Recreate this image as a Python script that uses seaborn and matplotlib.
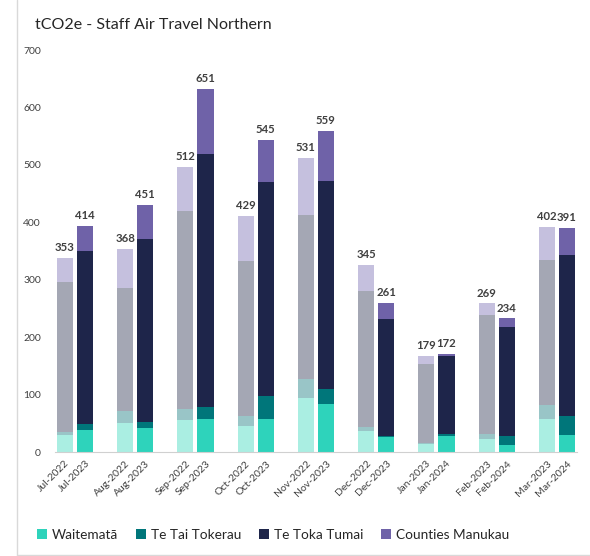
import matplotlib
matplotlib.use("Agg")
import matplotlib.pyplot as plt
from matplotlib.lines import Line2D
from matplotlib.patches import Patch
import numpy as np
import pandas as pd
import seaborn as sns

# months (each month shows prior year bar then current year bar)
months = ["Jul", "Aug", "Sep", "Oct", "Nov", "Dec", "Jan", "Feb", "Mar"]
prev_labels = ["Jul-2022", "Aug-2022", "Sep-2022", "Oct-2022", "Nov-2022",
               "Dec-2022", "Jan-2023", "Feb-2023", "Mar-2023"]
curr_labels = ["Jul-2023", "Aug-2023", "Sep-2023", "Oct-2023", "Nov-2023",
               "Dec-2023", "Jan-2024", "Feb-2024", "Mar-2024"]

regions = ["Waitematā", "Te Tai Tokerau", "Te Toka Tumai", "Counties Manukau"]

# tCO2e per region, prior year
prev_waitemata = [29, 50, 55, 45, 94, 36, 14, 23, 57]
prev_tai_tokerau = [6, 22, 20, 18, 33, 7, 1, 8, 25]
prev_toka_tumai = [261, 214, 345, 270, 285, 238, 139, 208, 253]
prev_counties = [42, 68, 77, 78, 100, 45, 14, 20, 57]

# tCO2e per region, current year
curr_waitemata = [38, 42, 57, 57, 84, 26, 28, 13, 29]
curr_tai_tokerau = [10, 11, 21, 40, 25, 2, 4, 15, 34]
curr_toka_tumai = [302, 318, 441, 373, 363, 203, 135, 189, 280]
curr_counties = [44, 60, 113, 74, 87, 29, 4, 16, 47]

# total labels as printed on the chart
prev_totals = [353, 368, 512, 429, 531, 345, 179, 269, 402]
curr_totals = [414, 451, 651, 545, 559, 261, 172, 234, 391]

dark = ["#2ed3bb", "#00767a", "#1e254a", "#6f62a8"]
light = ["#aaeee2", "#99c5c7", "#a4a7b4", "#c5c0de"]

rows = []
for i, m in enumerate(months):
    for period, label, vals in [
        ("prev", prev_labels[i], [prev_waitemata[i], prev_tai_tokerau[i], prev_toka_tumai[i], prev_counties[i]]),
        ("curr", curr_labels[i], [curr_waitemata[i], curr_tai_tokerau[i], curr_toka_tumai[i], curr_counties[i]]),
    ]:
        slot = 3 * i + (0 if period == "prev" else 1)
        for r, v in zip(regions, vals):
            rows.append({"slot": slot, "label": label, "period": period, "region": r, "value": v})

df = pd.DataFrame(rows)
df["cum"] = df.groupby("slot")["value"].cumsum()

sns.set_style("white")
plt.rcParams["font.family"] = ["Lato", "DejaVu Sans"]

fig = plt.figure(figsize=(5.9, 5.56), dpi=100)
ax = fig.add_axes([0.093, 0.187, 0.885, 0.723])

# draw cumulative heights from top layer down so lower layers overlap
for k in reversed(range(len(regions))):
    sub = df[df["region"] == regions[k]]
    sns.barplot(
        data=sub, x="slot", y="cum", hue="period",
        palette={"prev": light[k], "curr": dark[k]},
        native_scale=True, dodge=False, width=0.8, saturation=1,
        linewidth=0, legend=False, ax=ax,
    )

tops = df.groupby("slot")["cum"].max()
for i in range(len(months)):
    for slot, tot in [(3 * i, prev_totals[i]), (3 * i + 1, curr_totals[i])]:
        ax.text(slot, tops[slot] + 8, str(tot), ha="center", va="bottom",
                fontsize=8.2, fontweight="bold", color="#404040")

ax.set_ylim(0, 700)
ax.set_xlim(-0.5, 25.5)
ax.set_yticks(range(0, 701, 100))
ax.tick_params(axis="y", length=0, pad=10, labelsize=7.5, labelcolor="#404040")

slots = [3 * i + j for i in range(len(months)) for j in (0, 1)]
labels = [lab for pair in zip(prev_labels, curr_labels) for lab in pair]
ax.set_xticks(slots)
ax.set_xticklabels(labels, rotation=45, ha="right", rotation_mode="anchor",
                   fontsize=7.5, color="#404040")
ax.tick_params(axis="x", which="major", length=0, pad=5)
ax.set_xticks(np.arange(-0.5, 26, 1), minor=True)
ax.tick_params(axis="x", which="minor", length=4, color="#d0d0d0", width=0.8)
ax.set_xlabel("")
ax.set_ylabel("")

sns.despine(ax=ax, left=True)
ax.spines["bottom"].set_color("#d0d0d0")
ax.spines["bottom"].set_linewidth(0.8)

fig.text(35 / 590, 1 - 25 / 556, "tCO2e - Staff Air Travel Northern",
         fontsize=11.5, color="#262626", va="center", ha="left")

handles = [Patch(facecolor=c, edgecolor="none") for c in dark]
fig.legend(handles, regions, loc="center", bbox_to_anchor=(273 / 590, 1 - 535 / 556),
           ncol=4, frameon=False, fontsize=9.8, handlelength=0.75, handleheight=0.75,
           handletextpad=0.35, columnspacing=1.3, labelcolor="#262626")

# chart frame lines (left and bottom)
fig.add_artist(Line2D([17 / 590, 17 / 590], [0.002, 1], color="#d9d9d9", lw=1))
fig.add_artist(Line2D([17 / 590, 1], [0.002, 0.002], color="#d9d9d9", lw=1))

fig.savefig("out.png", dpi=100)
